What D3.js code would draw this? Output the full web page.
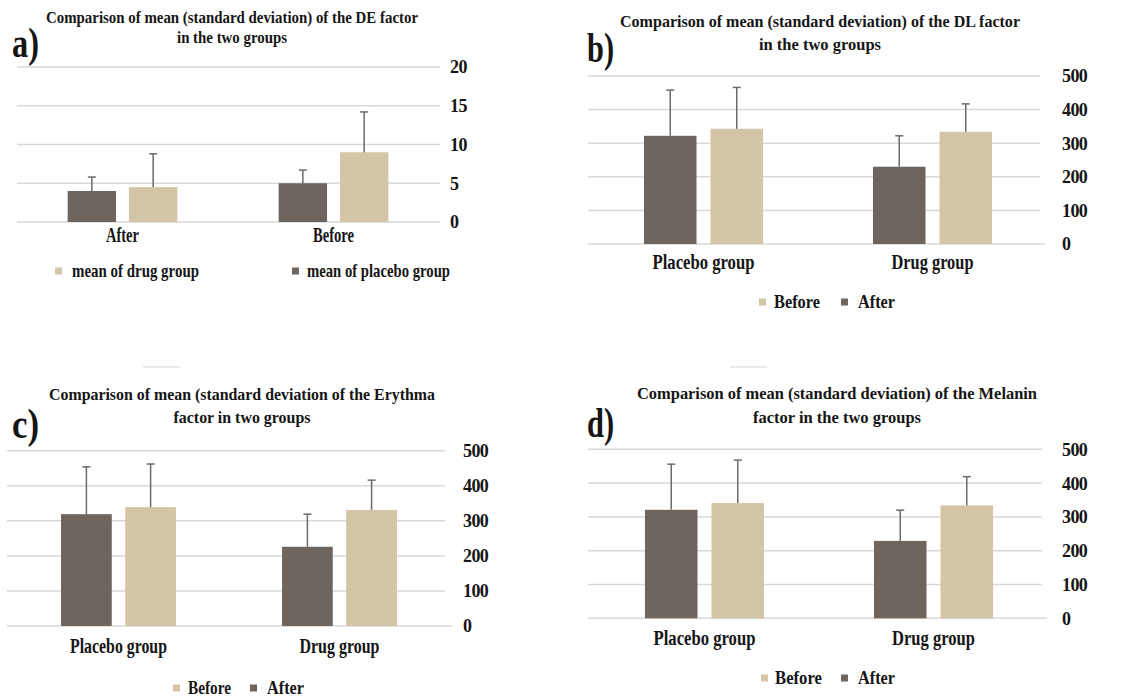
<!DOCTYPE html>
<meta charset="utf-8">
<head>
  <title>Comparison of mean (SD) in the two groups</title>
</head>
<style>
body { margin: 0; background: #fff; }
text {
  font-family: "Liberation Serif", "Times New Roman", serif;
  font-weight: bold;
  fill: #151515;
}
.grid line { stroke: #d9d9d9; stroke-width: 1.5px; }
.err { stroke: #6d6a68; stroke-width: 1.5px; fill: none; }
</style>
<body>
<script src="https://d3js.org/d3.v7.min.js"></script>
<script>

// ---- data ----
// a) DE factor
var deGroups = ["After", "Before"];
var dePlaceboMean = [4.0, 5.0];
var dePlaceboSD = [1.8, 1.7];
var deDrugMean = [4.5, 9.0];
var deDrugSD = [4.3, 5.2];
var deTicks = [0, 5, 10, 15, 20];

// b), c), d) share the groups and the tick values
var groups = ["Placebo group", "Drug group"];
var bigTicks = [0, 100, 200, 300, 400, 500];

// b) DL factor
var dlAfterMean = [322, 230];
var dlAfterSD = [136, 92];
var dlBeforeMean = [343, 334];
var dlBeforeSD = [123, 83];

// c) Erythma factor
var erAfterMean = [319, 226];
var erAfterSD = [135, 93];
var erBeforeMean = [339, 331];
var erBeforeSD = [123, 85];

// d) Melanin factor
var meAfterMean = [321, 229];
var meAfterSD = [135, 91];
var meBeforeMean = [341, 334];
var meBeforeSD = [127, 85];

var dark = "#6e655f",
    light = "#d3c5a5";

var svg = d3.select("body").append("svg")
    .attr("width", 1137)
    .attr("height", 697);

// one panel
function drawPanel(p) {
  var g = svg.append("g");

  var y = d3.scaleLinear().domain([0, p.max]).range(p.y);
  var x0 = d3.scaleBand().domain(p.cats).range(p.bx)
      .paddingInner(0.48).paddingOuter(0.24);
  var x1 = d3.scaleBand().domain([0, 1]).range([0, x0.bandwidth()])
      .paddingInner(0.21);

  // gridlines
  g.append("g").attr("class", "grid")
    .selectAll("line").data(p.ticks).join("line")
      .attr("x1", p.gx[0])
      .attr("x2", function(d) { return d === 0 ? p.gx[1] + p.zeroExtra : p.gx[1]; })
      .attr("y1", function(d) { return y(d); })
      .attr("y2", function(d) { return y(d); });

  // tick labels on the right
  g.append("g")
    .selectAll("text").data(p.ticks).join("text")
      .attr("x", p.tickX)
      .attr("y", function(d) { return y(d); })
      .attr("dy", "0.36em")
      .style("font-size", "18px")
      .style("letter-spacing", "-0.6px")
      .text(function(d) { return d; });

  // bars + error bars, series 0 = dark, series 1 = light
  p.series.forEach(function(s, si) {
    var rows = p.cats.map(function(c, i) {
      return {cat: c, mean: s.mean[i], sd: s.sd[i]};
    });
    g.append("g").selectAll("rect").data(rows).join("rect")
        .attr("x", function(d) { return x0(d.cat) + x1(si); })
        .attr("width", x1.bandwidth())
        .attr("y", function(d) { return y(d.mean); })
        .attr("height", function(d) { return y(0) - y(d.mean); })
        .attr("fill", s.color);

    var eb = g.append("g").attr("class", "err").selectAll("g").data(rows).join("g");
    eb.append("line")
        .attr("x1", function(d) { return x0(d.cat) + x1(si) + x1.bandwidth() / 2; })
        .attr("x2", function(d) { return x0(d.cat) + x1(si) + x1.bandwidth() / 2; })
        .attr("y1", function(d) { return y(d.mean); })
        .attr("y2", function(d) { return y(d.mean + d.sd); });
    eb.append("line")
        .attr("x1", function(d) { return x0(d.cat) + x1(si) + x1.bandwidth() / 2 - 4; })
        .attr("x2", function(d) { return x0(d.cat) + x1(si) + x1.bandwidth() / 2 + 4; })
        .attr("y1", function(d) { return y(d.mean + d.sd); })
        .attr("y2", function(d) { return y(d.mean + d.sd); });
  });

  // category labels
  g.append("g").selectAll("text").data(p.cats).join("text")
      .attr("x", function(d) { return x0(d) + x0.bandwidth() / 2; })
      .attr("y", p.catY)
      .attr("text-anchor", "middle")
      .attr("textLength", function(d, i) { return p.catW[i]; })
      .attr("lengthAdjust", "spacingAndGlyphs")
      .style("font-size", "20px")
      .text(function(d) { return d; });

  // title, two lines
  p.title.forEach(function(t, i) {
    g.append("text")
        .attr("x", p.titleX)
        .attr("y", p.titleY[i])
        .attr("text-anchor", "middle")
        .attr("textLength", p.titleW[i])
        .attr("lengthAdjust", "spacingAndGlyphs")
        .style("font-size", "17.5px")
        .text(t);
  });

  // panel letter
  g.append("text")
      .attr("x", p.lx).attr("y", p.ly)
      .attr("textLength", 27)
      .attr("lengthAdjust", "spacingAndGlyphs")
      .style("font-size", "42px")
      .text(p.label);

  // legend
  p.legend.forEach(function(l) {
    g.append("rect")
        .attr("x", l.x).attr("y", p.legY - 3.5)
        .attr("width", 7).attr("height", 7)
        .attr("fill", l.color);
    g.append("text")
        .attr("x", l.tx).attr("y", p.legY + 5.5)
        .attr("textLength", l.w)
        .attr("lengthAdjust", "spacingAndGlyphs")
        .style("font-size", "19px")
        .text(l.name);
  });
}

drawPanel({
  label: "a)", lx: 12, ly: 57,
  title: ["Comparison of mean (standard deviation) of the DE factor", "in the two groups"],
  titleX: 232, titleY: [23, 43], titleW: [372, 110],
  cats: deGroups, max: 20, ticks: deTicks,
  y: [222, 67], gx: [17, 440], zeroExtra: 0, bx: [17, 439], tickX: 450,
  catY: 242, catW: [33, 41],
  series: [{mean: dePlaceboMean, sd: dePlaceboSD, color: dark},
           {mean: deDrugMean, sd: deDrugSD, color: light}],
  legY: 271,
  legend: [{name: "mean of drug group", color: light, x: 55, tx: 72, w: 127},
           {name: "mean of placebo group", color: dark, x: 292, tx: 307, w: 143}]
});

drawPanel({
  label: "b)", lx: 587, ly: 62,
  title: ["Comparison of mean (standard deviation) of the DL factor", "in the two groups"],
  titleX: 820, titleY: [27, 50], titleW: [400, 122],
  cats: groups, max: 500, ticks: bigTicks,
  y: [244, 76], gx: [588, 1040], zeroExtra: 5, bx: [589, 1047], tickX: 1062,
  catY: 269, catW: [102, 82],
  series: [{mean: dlAfterMean, sd: dlAfterSD, color: dark},
           {mean: dlBeforeMean, sd: dlBeforeSD, color: light}],
  legY: 302,
  legend: [{name: "Before", color: light, x: 759, tx: 774, w: 46},
           {name: "After", color: dark, x: 841, tx: 858, w: 37}]
});

drawPanel({
  label: "c)", lx: 12, ly: 438,
  title: ["Comparison of mean (standard deviation of the Erythma", "factor in two groups"],
  titleX: 242, titleY: [400, 423], titleW: [386, 137],
  cats: groups, max: 500, ticks: bigTicks,
  y: [626, 450.7], gx: [7, 445], zeroExtra: 7, bx: [8, 450], tickX: 463,
  catY: 653, catW: [97, 80],
  series: [{mean: erAfterMean, sd: erAfterSD, color: dark},
           {mean: erBeforeMean, sd: erBeforeSD, color: light}],
  legY: 688,
  legend: [{name: "Before", color: light, x: 173, tx: 188, w: 43},
           {name: "After", color: dark, x: 250, tx: 267, w: 37}]
});

drawPanel({
  label: "d)", lx: 587, ly: 437,
  title: ["Comparison of mean (standard deviation) of the Melanin", "factor in the two groups"],
  titleX: 837, titleY: [399, 423], titleW: [400, 168],
  cats: groups, max: 500, ticks: bigTicks,
  y: [618.3, 449.3], gx: [588, 1042], zeroExtra: 5, bx: [590, 1048], tickX: 1062,
  catY: 645, catW: [102, 83],
  series: [{mean: meAfterMean, sd: meAfterSD, color: dark},
           {mean: meBeforeMean, sd: meBeforeSD, color: light}],
  legY: 678,
  legend: [{name: "Before", color: light, x: 761, tx: 775, w: 47},
           {name: "After", color: dark, x: 841, tx: 858, w: 37}]
});

// faint scan marks above the lower panels
svg.append("line").attr("x1", 143).attr("x2", 180).attr("y1", 367).attr("y2", 367)
    .style("stroke", "#e3e3e3").style("stroke-width", "1.5px");
svg.append("line").attr("x1", 730).attr("x2", 767).attr("y1", 367).attr("y2", 367)
    .style("stroke", "#e3e3e3").style("stroke-width", "1.5px");

</script>
</body>
